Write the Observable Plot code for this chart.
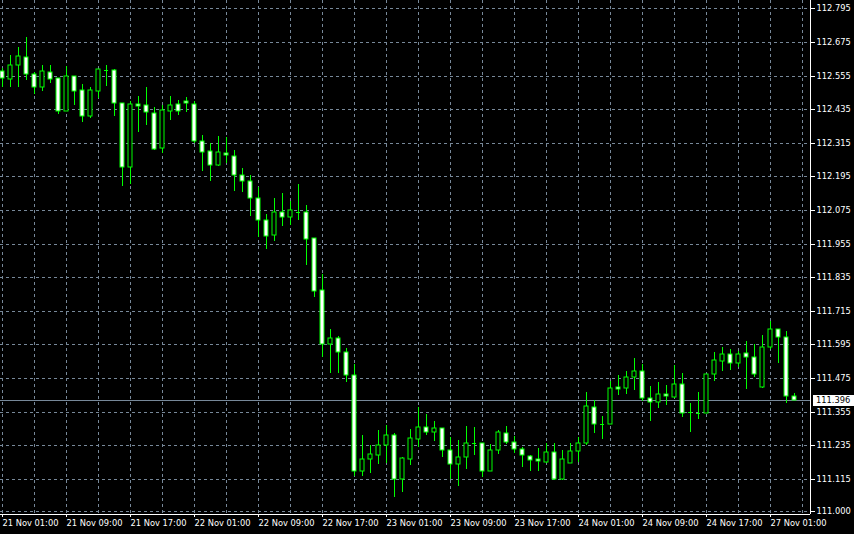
<!DOCTYPE html>
<html><head><meta charset="utf-8">
<script src="https://cdn.jsdelivr.net/npm/d3@7"></script>
<script src="https://cdn.jsdelivr.net/npm/@observablehq/plot@0.6"></script>
<style>
html,body{margin:0;padding:0;background:#000;overflow:hidden}
#chart svg{display:block}
</style></head><body><div id="chart"></div>
<script>
// Hourly USDJPY-style bars, indexed 0..99 (21 Nov 01:00 -> 27 Nov 04:00)
const open = [112.570,112.542,112.592,112.620,112.560,112.515,112.567,112.545,112.430,112.553,
112.503,112.412,112.501,112.575,112.574,112.456,112.228,112.453,112.449,112.420,
112.295,112.430,112.453,112.464,112.453,112.320,112.285,112.237,112.278,112.267,
112.199,112.179,112.117,112.038,111.987,112.067,112.049,112.068,112.067,111.974,
111.788,111.595,111.617,111.567,111.485,111.142,111.187,111.199,111.235,111.270,
111.113,111.187,111.256,111.299,111.281,111.295,111.217,111.167,111.192,111.244,
111.242,111.142,111.217,111.278,111.245,111.220,111.195,111.185,111.174,111.210,
111.115,111.170,111.213,111.242,111.370,111.311,111.312,111.442,111.439,111.480,
111.499,111.405,111.388,111.417,111.408,111.453,111.353,111.351,111.349,111.488,
111.535,111.560,111.528,111.563,111.549,111.444,111.585,111.649,111.620,111.412];
const high = [112.581,112.629,112.656,112.692,112.569,112.593,112.592,112.545,112.590,112.553,
112.524,112.514,112.578,112.593,112.578,112.456,112.464,112.482,112.514,112.442,
112.450,112.482,112.468,112.479,112.464,112.343,112.313,112.339,112.336,112.289,
112.225,112.199,112.158,112.061,112.118,112.136,112.107,112.168,112.093,111.974,
111.846,111.650,111.625,111.582,111.525,111.271,111.235,111.289,111.306,111.278,
111.192,111.293,111.370,111.346,111.321,111.295,111.263,111.254,111.304,111.300,
111.242,111.238,111.289,111.304,111.268,111.230,111.199,111.224,111.242,111.242,
111.218,111.242,111.263,111.425,111.396,111.339,111.465,111.485,111.500,111.546,
111.525,111.446,111.461,111.449,111.520,111.492,111.385,111.424,111.488,111.567,
111.585,111.579,111.570,111.607,111.596,111.629,111.679,111.649,111.642,111.420];
const low = [112.513,112.513,112.513,112.539,112.489,112.500,112.530,112.419,112.430,112.450,
112.390,112.405,112.476,112.519,112.411,112.162,112.168,112.355,112.379,112.289,
112.280,112.396,112.414,112.426,112.313,112.215,112.180,112.232,112.242,112.144,
112.140,112.055,111.980,111.937,111.965,112.019,112.023,112.040,111.879,111.765,
111.551,111.494,111.494,111.462,111.125,111.125,111.137,111.169,111.170,111.051,
111.069,111.164,111.230,111.271,111.251,111.194,111.113,111.090,111.151,111.199,
111.123,111.142,111.203,111.238,111.206,111.158,111.144,111.144,111.170,111.112,
111.112,111.170,111.174,111.235,111.278,111.257,111.312,111.413,111.419,111.433,
111.392,111.323,111.369,111.380,111.405,111.337,111.283,111.330,111.349,111.465,
111.499,111.504,111.515,111.437,111.478,111.440,111.578,111.530,111.387,111.396];
const close = [112.545,112.592,112.624,112.561,112.515,112.570,112.544,112.430,112.553,112.501,
112.412,112.503,112.578,112.575,112.456,112.230,112.453,112.445,112.424,112.292,
112.431,112.449,112.427,112.456,112.322,112.281,112.237,112.281,112.270,112.199,
112.180,112.117,112.038,111.983,112.067,112.049,112.075,112.068,111.970,111.787,
111.595,111.617,111.567,111.485,111.142,111.185,111.203,111.235,111.270,111.113,
111.188,111.260,111.299,111.281,111.295,111.217,111.167,111.192,111.242,111.244,
111.142,111.217,111.281,111.245,111.220,111.199,111.181,111.178,111.210,111.115,
111.185,111.213,111.242,111.374,111.310,111.311,111.438,111.435,111.480,111.499,
111.405,111.388,111.417,111.410,111.453,111.349,111.353,111.351,111.488,111.538,
111.560,111.528,111.560,111.550,111.488,111.585,111.649,111.620,111.412,111.396];

const timeTickBars = [0,8,16,24,32,40,48,56,64,72,80,88,96];
const timeTickLabels = ["21 Nov 01:00","21 Nov 09:00","21 Nov 17:00","22 Nov 01:00","22 Nov 09:00",
"22 Nov 17:00","23 Nov 01:00","23 Nov 09:00","23 Nov 17:00","24 Nov 01:00","24 Nov 09:00",
"24 Nov 17:00","27 Nov 01:00"];
const gridBars = d3.range(0, 101, 4);
const priceTicks = [112.795,112.675,112.555,112.435,112.315,112.195,112.075,111.955,111.835,
111.715,111.595,111.475,111.355,111.235,111.115,111.000];
const currentPrice = 111.396;

const bars = open.map((o, i) => ({i, open: o, high: high[i], low: low[i], close: close[i]}));
const bear = bars.filter(d => d.close < d.open);
const bull = bars.filter(d => d.close > d.open);
const doji = bars.filter(d => Math.abs(d.close - d.open) < 0.002);

const xMin = -0.25, xMax = 101;
const yMin = 111 - 3/280, yMax = 111 + 511/280;
const GREEN = "#00ff00", GRID = "#778899";
const FONT = "DejaVu Sans";
const FS = 8.3;

const plot = Plot.plot({
  width: 854, height: 534,
  marginLeft: 0, marginRight: 44, marginTop: 0, marginBottom: 20,
  style: {background: "#000", color: "#fff", fontFamily: FONT, fontSize: FS + "px"},
  x: {domain: [xMin, xMax], axis: null, label: null},
  y: {domain: [yMin, yMax], axis: null, label: null, round: true},
  marks: [
    Plot.gridX(gridBars, {stroke: GRID, strokeOpacity: 1, strokeDasharray: "3,3"}),
    Plot.gridY(priceTicks, {stroke: GRID, strokeOpacity: 1, strokeDasharray: "3,3"}),
    Plot.ruleY([currentPrice], {stroke: GRID, strokeOpacity: 1}),
    Plot.ruleX(bars, {x: "i", y1: "low", y2: "high", stroke: GREEN}),
    Plot.rect(bull, {x1: d => d.i - 0.25, x2: d => d.i + 0.25, y1: "open", y2: "close", fill: "#000", stroke: GREEN}),
    Plot.rect(bear, {x1: d => d.i - 0.25, x2: d => d.i + 0.25, y1: "open", y2: "close", fill: "#fff", stroke: GREEN}),
    Plot.ruleY(doji, {y: "open", x1: d => d.i - 0.25, x2: d => d.i + 0.25, stroke: GREEN}),
    Plot.ruleX([xMax], {stroke: "#fff"}),
    Plot.ruleY([yMin], {stroke: "#fff"}),
    Plot.axisY(priceTicks, {anchor: "right", label: null, tickSize: 4, tickPadding: 2, color: "#fff",
      tickFormat: d => d.toFixed(3), fontSize: FS, fontFamily: FONT}),
    Plot.axisX(timeTickBars, {anchor: "bottom", label: null, tickSize: 3, tickPadding: 3, color: "#fff",
      textAnchor: "start", tickFormat: d => timeTickLabels[timeTickBars.indexOf(d)], fontSize: FS, fontFamily: FONT})
  ]
});

// current price marker box on the price scale
const svg = d3.select(plot);
const yc = plot.scale("y").apply(currentPrice) + 0.5;
const xr = plot.scale("x").apply(xMax) + 3;
const g = svg.append("g");
g.append("rect").attr("x", xr).attr("y", yc - 5.5).attr("width", 854 - xr).attr("height", 11).attr("fill", "#fff");
g.append("text").attr("x", xr + 3).attr("y", yc).attr("dy", "0.35em")
  .attr("text-anchor", "start")
  .attr("fill", "#000").attr("font-family", FONT).attr("font-size", FS)
  .text(currentPrice.toFixed(3));

document.getElementById("chart").appendChild(plot);
</script></body></html>
